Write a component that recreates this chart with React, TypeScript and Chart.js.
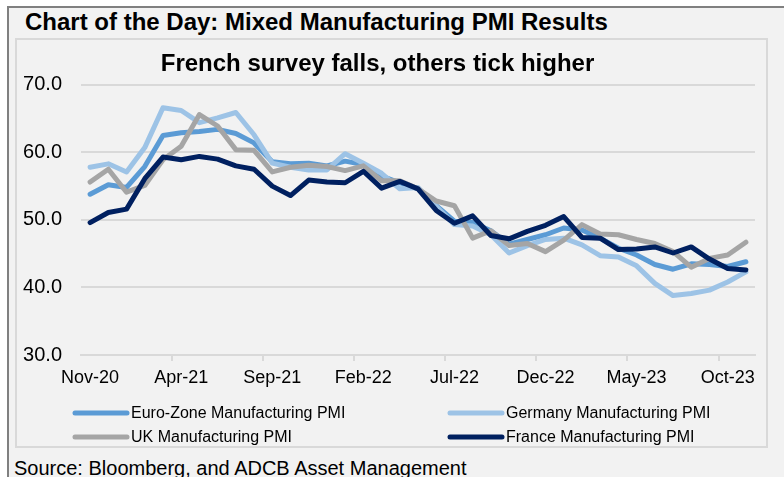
import React, { useEffect, useRef } from 'react';
import { Chart, registerables } from 'chart.js';

Chart.register(...registerables);

const months = [
  'Nov-20', 'Dec-20', 'Jan-21', 'Feb-21', 'Mar-21', 'Apr-21', 'May-21', 'Jun-21', 'Jul-21', 'Aug-21',
  'Sep-21', 'Oct-21', 'Nov-21', 'Dec-21', 'Jan-22', 'Feb-22', 'Mar-22', 'Apr-22', 'May-22', 'Jun-22',
  'Jul-22', 'Aug-22', 'Sep-22', 'Oct-22', 'Nov-22', 'Dec-22', 'Jan-23', 'Feb-23', 'Mar-23', 'Apr-23',
  'May-23', 'Jun-23', 'Jul-23', 'Aug-23', 'Sep-23', 'Oct-23', 'Nov-23',
];

const euroZone = [
  53.8, 55.2, 54.8, 57.9, 62.5, 62.9, 63.1, 63.4, 62.8, 61.4,
  58.6, 58.3, 58.4, 58.0, 58.7, 58.2, 56.5, 55.5, 54.6, 52.1,
  49.8, 49.6, 48.4, 46.4, 47.1, 47.8, 48.8, 48.5, 47.3, 45.8,
  44.8, 43.4, 42.7, 43.5, 43.4, 43.1, 43.8,
];

const germany = [
  57.8, 58.3, 57.1, 60.7, 66.6, 66.2, 64.4, 65.1, 65.9, 62.6,
  58.4, 57.8, 57.4, 57.4, 59.8, 58.4, 56.9, 54.6, 54.8, 52.0,
  49.3, 49.1, 47.8, 45.1, 46.2, 47.1, 47.3, 46.3, 44.7, 44.5,
  43.2, 40.6, 38.8, 39.1, 39.6, 40.8, 42.3,
];

const uk = [
  55.6, 57.5, 54.1, 55.1, 58.9, 60.9, 65.6, 63.9, 60.4, 60.3,
  57.1, 57.8, 58.1, 57.9, 57.3, 58.0, 55.8, 55.8, 54.6, 52.8,
  52.1, 47.3, 48.4, 46.2, 46.5, 45.3, 47.0, 49.3, 47.9, 47.8,
  47.1, 46.5, 45.3, 43.0, 44.3, 44.8, 46.7,
];

const france = [
  49.6, 51.1, 51.6, 56.1, 59.3, 58.9, 59.4, 59.0, 58.0, 57.5,
  55.0, 53.6, 55.9, 55.6, 55.5, 57.2, 54.7, 55.7, 54.6, 51.4,
  49.5, 50.6, 47.7, 47.2, 48.3, 49.2, 50.5, 47.4, 47.3, 45.6,
  45.7, 46.0, 45.1, 46.0, 44.2, 42.8, 42.6,
];

const seriesNames = [
  'Euro-Zone Manufacturing PMI',
  'Germany Manufacturing PMI',
  'UK Manufacturing PMI',
  'France Manufacturing PMI',
];
const seriesColors = ['#5B9BD5', '#9DC3E6', '#A5A5A5', '#002060'];

const yTicks = [30, 40, 50, 60, 70];

const FONT = 'Arial, "Liberation Sans", sans-serif';

const gridLegend = {
  id: 'gridLegend',
  afterDraw(chart: any) {
    const { ctx, chartArea } = chart;
    const ds = chart.data.datasets;
    const colX = [chartArea.left - 8, chartArea.left + 367];
    const rowY = [chartArea.bottom + 58, chartArea.bottom + 82];
    ctx.save();
    ds.forEach((d: any, i: number) => {
      const x = colX[i % 2];
      const y = rowY[Math.floor(i / 2)];
      ctx.strokeStyle = d.borderColor;
      ctx.lineWidth = 5;
      ctx.lineCap = 'round';
      ctx.beginPath();
      ctx.moveTo(x + 2, y);
      ctx.lineTo(x + 54, y);
      ctx.stroke();
      ctx.fillStyle = '#000';
      ctx.font = `16px ${FONT}`;
      ctx.textBaseline = 'middle';
      ctx.textAlign = 'left';
      ctx.fillText(d.label, x + 58, y + 1);
    });
    ctx.restore();
  },
};

function PmiChart() {
  const ref = useRef<HTMLCanvasElement>(null);
  useEffect(() => {
    if (!ref.current) return;
    const values = [euroZone, germany, uk, france];
    const chart = new Chart(ref.current, {
      type: 'line',
      data: {
        labels: months,
        datasets: values.map((v, i) => ({
          label: seriesNames[i],
          data: v,
          borderColor: seriesColors[i],
          backgroundColor: seriesColors[i],
          borderWidth: 5,
          pointRadius: 0,
          pointHoverRadius: 0,
          tension: 0,
          borderJoinStyle: 'round' as const,
          borderCapStyle: 'round' as const,
          order: 4 - i,
        })),
      },
      options: {
        responsive: false,
        animation: false,
        devicePixelRatio: 1,
        layout: { padding: { left: 0, right: 29, top: 0, bottom: 82 } },
        plugins: {
          legend: { display: false },
          tooltip: { enabled: false },
          title: {
            display: true,
            text: 'French survey falls, others tick higher',
            color: '#000',
            font: { family: FONT, size: 24, weight: 'bold', lineHeight: 1.2 },
            padding: { top: 50, bottom: 6 },
          },
        },
        scales: {
          x: {
            offset: true,
            grid: {
              offset: true,
              drawOnChartArea: false,
              drawTicks: true,
              tickLength: 6,
              lineWidth: 2,
              color: (c: any) => (c.index % 5 === 0 && c.index > 0 && c.index < months.length ? '#D9D9D9' : 'rgba(0,0,0,0)'),
            },
            border: { display: true, color: '#D9D9D9', width: 2 },
            ticks: {
              autoSkip: false,
              maxRotation: 0,
              minRotation: 0,
              padding: 6,
              color: '#000',
              font: { family: FONT, size: 18 },
              callback: (_v: any, i: number) => (i % 5 === 0 ? months[i] : ''),
            },
            afterFit: (s: any) => { s.height = 40; },
          },
          y: {
            min: yTicks[0],
            max: yTicks[yTicks.length - 1],
            afterBuildTicks: (s: any) => { s.ticks = yTicks.map((v) => ({ value: v })); },
            grid: { color: '#D9D9D9', lineWidth: 2, drawTicks: false },
            border: { display: false },
            ticks: {
              padding: 19,
              color: '#000',
              font: { family: FONT, size: 20 },
              callback: (v: any) => Number(v).toFixed(1),
            },
            afterFit: (s: any) => { s.width = 81; },
          },
        },
      },
      plugins: [gridLegend],
    });
    return () => chart.destroy();
  }, []);
  return (
    <canvas
      ref={ref}
      width={784}
      height={477}
      style={{ position: 'absolute', left: 0, top: 0, width: 784, height: 477 }}
    />
  );
}

export default function App() {
  return (
    <div style={{ position: 'fixed', left: 0, top: 0, width: 784, height: 477, background: '#fff', overflow: 'hidden', fontFamily: FONT }}>
      <div
        style={{
          position: 'absolute', left: 7, top: 6, width: 800, height: 490,
          borderTop: '2px solid #808080', borderLeft: '2px solid #808080', background: '#F2F2F2',
        }}
      />
      <div style={{ position: 'absolute', left: 25, top: 10, fontSize: 24, lineHeight: '24px', fontWeight: 'bold', color: '#000', whiteSpace: 'nowrap' }}>
        Chart of the Day: Mixed Manufacturing PMI Results
      </div>
      <div
        style={{
          position: 'absolute', left: 15, top: 38, width: 753, height: 410, boxSizing: 'border-box',
          border: '2px solid #D9D9D9', background: '#F2F2F2',
        }}
      />
      <div style={{ position: 'absolute', left: 14, top: 458, fontSize: 20, lineHeight: '20px', color: '#000', whiteSpace: 'nowrap' }}>
        Source: Bloomberg, and ADCB Asset Management
      </div>
      <PmiChart />
    </div>
  );
}
